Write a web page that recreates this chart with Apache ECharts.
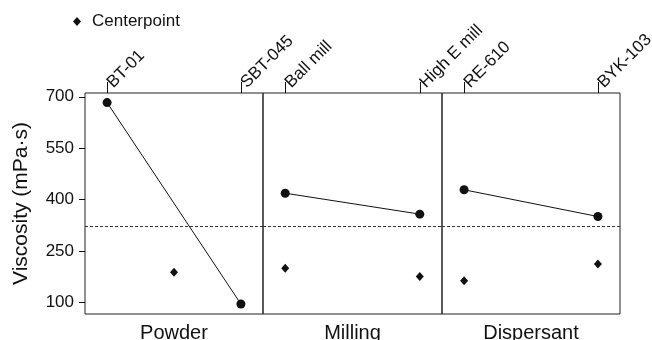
<!DOCTYPE html>
<html>
<head>
<meta charset="utf-8">
<script src="https://cdn.jsdelivr.net/npm/echarts@6/dist/echarts.min.js"></script>
<style>
  html, body { margin: 0; padding: 0; background: #fff; }
  #chart { width: 652px; height: 340px; }
</style>
</head>
<body>
<div id="chart"></div>
<script>
// Main effects of each factor on slurry viscosity
const factors = ['Powder', 'Milling', 'Dispersant'];
const levelLabels = [
  ['BT-01', 'SBT-045'],
  ['Ball mill', 'High E mill'],
  ['RE-610', 'BYK-103']
];
const levelMeans = [
  [683, 96],
  [419, 358],
  [429, 351]
];
// centerpoint runs: level index (0.5 = between levels) and viscosity
const centerLevel = [[0.5], [0, 1], [0, 1]];
const centerValue = [[189], [200, 176], [164, 213]];
const grandMean = 323;
const yTicks = [100, 250, 400, 550, 700];

const FONT = '"Liberation Sans", Arial, sans-serif';
const INK = '#111';

const panelLeft = [85, 263, 442];
const panelWidth = [178, 179, 178];

const grids = [], xAxes = [], yAxes = [], series = [];

factors.forEach((name, i) => {
  grids.push({
    left: panelLeft[i], top: 93, width: panelWidth[i], height: 221,
    outerBoundsMode: 'none', containLabel: false,
    show: true, borderColor: '#222', borderWidth: 1, backgroundColor: 'transparent'
  });
  // level labels along the top
  xAxes.push({
    type: 'value', gridIndex: i, position: 'top', min: -0.165, max: 1.165,
    axisLine: { show: false, onZero: false }, splitLine: { show: false },
    axisTick: { show: true, customValues: [0, 1], length: 11, lineStyle: { color: INK, width: 1 } },
    axisLabel: {
      show: true, customValues: [0, 1], rotate: -45, margin: 5,
      align: 'left', verticalAlign: 'middle', padding: [0, 0, 0, 4],
      color: INK, fontFamily: FONT, fontSize: 17,
      formatter: v => levelLabels[i][Math.round(v)]
    }
  });
  // factor name along the bottom
  xAxes.push({
    type: 'value', gridIndex: i, position: 'bottom', min: -0.165, max: 1.165,
    axisLine: { show: false, onZero: false }, axisTick: { show: false }, axisLabel: { show: false },
    splitLine: { show: false },
    name: name, nameLocation: 'middle', nameGap: 9,
    nameTextStyle: { color: INK, fontFamily: FONT, fontSize: 20, verticalAlign: 'top' }
  });
  yAxes.push({
    type: 'value', gridIndex: i, min: 67, max: 711,
    axisLine: { show: false, onZero: false },
    splitLine: { show: false },
    axisTick: { show: i === 0, customValues: yTicks, length: 6, lineStyle: { color: INK, width: 1 } },
    axisLabel: {
      show: i === 0, customValues: yTicks, margin: 11,
      color: INK, fontFamily: FONT, fontSize: 17
    },
    name: i === 0 ? 'Viscosity (mPa\u00b7s)' : '',
    nameLocation: 'middle', nameGap: 53,
    nameTextStyle: { color: INK, fontFamily: FONT, fontSize: 21 }
  });

  series.push({
    name: name, type: 'line', xAxisIndex: 2 * i, yAxisIndex: i,
    data: levelMeans[i].map((v, k) => [k, v]),
    symbol: 'circle', symbolSize: 9,
    itemStyle: { color: INK, opacity: 1 }, lineStyle: { color: INK, width: 1 },
    silent: true, z: 3,
    markLine: {
      silent: true, symbol: 'none', label: { show: false },
      lineStyle: { color: '#333', width: 1, type: [3, 2] },
      data: [{ yAxis: grandMean }]
    }
  });
  series.push({
    name: 'Centerpoint', type: 'scatter', xAxisIndex: 2 * i, yAxisIndex: i,
    data: centerValue[i].map((v, k) => [centerLevel[i][k], v]),
    symbol: 'diamond', symbolSize: [8, 9],
    itemStyle: { color: INK, opacity: 1 }, silent: true, z: 3
  });
});

const chart = echarts.init(document.getElementById('chart'), null, { renderer: 'canvas' });
chart.setOption({
  animation: false,
  backgroundColor: '#fff',
  legend: {
    data: [{ name: 'Centerpoint', icon: 'diamond', itemStyle: { color: INK, opacity: 1 } }],
    left: 68, top: 8, itemWidth: 8, itemHeight: 9, itemGap: 5,
    selectedMode: false,
    textStyle: { color: INK, fontFamily: FONT, fontSize: 17, padding: [0, 0, 0, 6] }
  },
  grid: grids,
  xAxis: xAxes,
  yAxis: yAxes,
  series: series
});
</script>
</body>
</html>
